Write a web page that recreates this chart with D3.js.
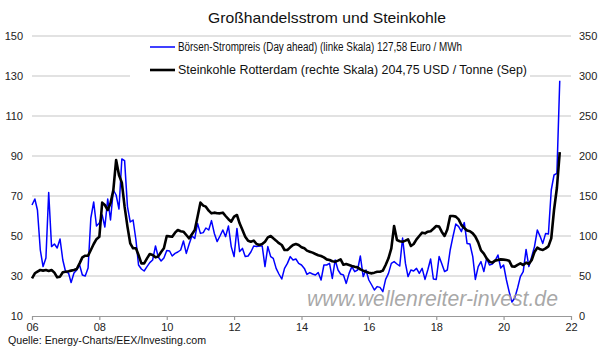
<!DOCTYPE html>
<html>
<head>
<meta charset="utf-8">
<script src="https://cdn.jsdelivr.net/npm/d3@7/dist/d3.min.js"></script>
<style>
  body { margin: 0; background: #fff; }
  svg text { font-family: "Liberation Sans", Arial, sans-serif; }
</style>
</head>
<body>
<div id="chart"></div>
<script>
var width = 605, height = 349;
var plot = {left: 32, right: 571, top: 36, bottom: 316};

// monthly values, first month = Jan 2006
var startDate = new Date(2006, 0, 1);

// Börsen-Strompreis (Day ahead), Euro / MWh, left scale
var stromPreis = [
  65.5, 68.5, 63, 43, 34.7, 39, 71.7, 44.7, 46, 44,
  48.5, 38, 32, 31.5, 26.7, 31.5, 33, 35.5, 30.5, 30,
  34, 59, 67, 55, 56.5, 60.5, 54.5, 68.5, 58, 73,
  70.5, 63.5, 88.5, 87.7, 64.7, 57, 58, 48, 35.5, 33.5,
  32.5, 34.7, 36.7, 38, 45, 39.5, 37.5, 39, 42.7, 42.5,
  40, 41.3, 42, 43, 47.5, 41.3, 46, 50, 48.8, 56.3,
  51.3, 51.7, 54, 53, 57.7, 51.3, 47.2, 50, 53,
  49.7, 55, 44.7, 39.7, 53.8, 42.2, 43.8, 39.7, 40, 42,
  45, 44.7, 45, 45, 34.7, 44.7, 39.7, 38.8, 33.8, 31,
  28.5, 33.8, 36.3, 39.7, 38, 38.5, 36.3, 35.5, 33.8, 30.8,
  31.7, 31, 30.5, 31.7, 28, 35.5, 35.5, 36.3, 28.8, 38,
  33, 31, 30.5, 26.3, 31.3, 34.7, 32.2, 33, 40, 29.7,
  33, 28, 25.5, 23, 24.7, 24.3, 22.2, 28.3, 31.3,
  36.3, 37.2, 36, 35, 49, 36.3, 29.7, 33, 32.5, 33.8,
  31.3, 33.8, 28.3, 33, 38.5, 28.5, 28.3, 39.7, 36.3, 32.2,
  33, 43, 49.7, 56, 54.7, 52.2, 56.7, 46.3, 46, 39.7,
  28.3, 34.7, 37.2, 32.2, 38.8, 35.5, 36, 37.7, 40.5, 34,
  35.5, 28, 22.2, 17, 19, 24, 29.7, 32.2, 43.3, 34.7,
  39.7, 44.7, 53, 49.7, 46.3, 51.3, 51, 73, 80.5, 81.3,
  127.58
];

// Steinkohle Rotterdam, USD / Tonne, right scale
var steinkohle = [
  47, 53.4, 55.5, 57.5, 56.7, 57.5, 56.3, 57.5, 54.2, 48.3,
  49.2, 54.6, 55.4, 56, 56.7, 57.5, 58.75, 65.8, 73.3, 75.4,
  75.4, 82.5, 90, 96, 99, 141.7, 138.75, 132.5, 140.8, 157.5,
  195, 176.25, 166.7, 136.7, 111.7, 90.8, 84.6, 84.6, 76.25, 65.8,
  65.8, 72, 77.5, 76.25, 73.3, 74.5, 80, 84.6, 100, 99.5,
  99.2, 104.2, 107.5, 106, 105.4, 101.25, 97.1, 102.1, 107.5, 124.2,
  141.7, 138, 136.7, 131.7, 128.3, 129.2, 128.5, 128.3, 129.2,
  125, 121, 117.9, 124.2, 126.25, 115.8, 107.5, 99.2, 94, 92.9,
  94.2, 90, 88.75, 90, 92.9, 98.3, 100, 97.1, 94.2, 91,
  88.75, 82.5, 82.5, 85.8, 88.75, 90, 88.75, 86, 84.6, 81.7,
  80.4, 79.2, 77.5, 76, 75, 73.3, 70.8, 70, 68.5, 67.9,
  69.2, 70.8, 64, 65, 63.75, 62.5, 61.5, 60.8, 58.3, 56.7,
  55.4, 54, 53.3, 54.2, 55.4, 55.4, 56.7, 63.75, 72.1,
  84.6, 112.5, 95, 93.5, 92.9, 94.2, 95.8, 87.5, 90, 95.8,
  100, 104.2, 103.3, 105.4, 106, 109, 112.5, 111.7, 105.4, 100,
  108, 125, 125, 124.2, 120.8, 113.75, 110, 107, 106, 103.3,
  99.2, 92, 82, 78, 72, 67.9, 66.7, 69.2, 70, 70.8,
  70.5, 70, 69.2, 62, 61.7, 64, 65.8, 63.75, 66.7, 65,
  70, 80, 85.4, 83.3, 82.5, 84.6, 87, 97, 132.5, 160,
  204.75
];

var xTickYears = [2006, 2008, 2010, 2012, 2014, 2016, 2018, 2020, 2022];
var leftTicks = [10, 30, 50, 70, 90, 110, 130, 150];
var rightTicks = [0, 50, 100, 150, 200, 250, 300, 350];

var titleText = "Großhandelsstrom und Steinkohle";
var legendLabels = [
  "Börsen-Strompreis (Day ahead) (linke Skala) 127,58 Euro / MWh",
  "Steinkohle Rotterdam (rechte Skala) 204,75 USD / Tonne (Sep)"
];
var sourceText = "Quelle: Energy-Charts/EEX/Investing.com";
var watermarkText = "www.wellenreiter-invest.de";

function monthDate(i) {
  return new Date(startDate.getFullYear(), startDate.getMonth() + i, 1);
}

var svg = d3.select("#chart").append("svg")
  .attr("width", width)
  .attr("height", height);

var x = d3.scaleTime()
  .domain([new Date(2006, 0, 1), new Date(2022, 0, 1)])
  .range([plot.left, plot.right]);
var yLeft = d3.scaleLinear().domain([10, 150]).range([plot.bottom, plot.top]);
var yRight = d3.scaleLinear().domain([0, 350]).range([plot.bottom, plot.top]);

// gridlines
svg.append("g").selectAll("line")
  .data(leftTicks.filter(function(d) { return d > 10; }))
  .enter().append("line")
  .attr("x1", plot.left).attr("x2", plot.right)
  .attr("y1", function(d) { return yLeft(d); })
  .attr("y2", function(d) { return yLeft(d); })
  .attr("stroke", "#d9d9d9")
  .attr("stroke-width", 1.3);

// left axis labels
svg.append("g").selectAll("text")
  .data(leftTicks)
  .enter().append("text")
  .attr("x", 23)
  .attr("y", function(d) { return yLeft(d) + 4; })
  .attr("text-anchor", "end")
  .attr("font-size", 11)
  .attr("fill", "#222")
  .text(function(d) { return d; });

// right axis labels
svg.append("g").selectAll("text")
  .data(rightTicks)
  .enter().append("text")
  .attr("x", 579)
  .attr("y", function(d) { return yRight(d) + 4; })
  .attr("text-anchor", "start")
  .attr("font-size", 11)
  .attr("fill", "#222")
  .text(function(d) { return d; });

// bottom axis
var xAxis = d3.axisBottom(x)
  .tickValues(xTickYears.map(function(y) { return new Date(y, 0, 1); }))
  .tickFormat(d3.timeFormat("%y"))
  .tickSize(4)
  .tickSizeOuter(0);

var gx = svg.append("g")
  .attr("transform", "translate(0," + plot.bottom + ")")
  .call(xAxis);
gx.select(".domain").attr("stroke", "#999").attr("stroke-width", 1.2);
gx.selectAll(".tick line").attr("stroke", "#999").attr("stroke-width", 1.2);
gx.selectAll(".tick text")
  .attr("font-family", "Liberation Sans, Arial, sans-serif")
  .attr("font-size", 11)
  .attr("fill", "#222")
  .attr("dy", "0.75em")
  .attr("y", 7);

// legend box (hides gridline behind it)
svg.append("rect")
  .attr("x", 130).attr("y", 39)
  .attr("width", 400).attr("height", 41)
  .attr("fill", "#fff");

// series lines
var lineStrom = d3.line()
  .x(function(d, i) { return x(monthDate(i)); })
  .y(function(d) { return yLeft(d); });
var lineKohle = d3.line()
  .x(function(d, i) { return x(monthDate(i)); })
  .y(function(d) { return yRight(d); });

svg.append("path")
  .datum(stromPreis)
  .attr("d", lineStrom)
  .attr("fill", "none")
  .attr("stroke", "#0000ff")
  .attr("stroke-width", 1.5)
  .attr("stroke-linejoin", "round");

svg.append("path")
  .datum(steinkohle)
  .attr("d", lineKohle)
  .attr("fill", "none")
  .attr("stroke", "#000")
  .attr("stroke-width", 2.6)
  .attr("stroke-linejoin", "round");

// legend
var legendColors = ["#0000ff", "#000"];
var legendWidths = [1.5, 2.6];
var legendY = [47, 70];
var legendSize = [12, 12];
var legendLen = [284, 349];
var legend = svg.append("g");
legendLabels.forEach(function(lbl, i) {
  legend.append("line")
    .attr("x1", 150).attr("x2", 175)
    .attr("y1", legendY[i]).attr("y2", legendY[i])
    .attr("stroke", legendColors[i])
    .attr("stroke-width", legendWidths[i]);
  legend.append("text")
    .attr("x", 178)
    .attr("y", legendY[i] + 4)
    .attr("font-size", legendSize[i])
    .attr("fill", "#111")
    .attr("textLength", legendLen[i])
    .attr("lengthAdjust", "spacingAndGlyphs")
    .text(lbl);
});

// title
svg.append("text")
  .attr("x", 208).attr("y", 23)
  .attr("font-size", 15)
  .attr("fill", "#111")
  .attr("textLength", 238)
  .attr("lengthAdjust", "spacingAndGlyphs")
  .text(titleText);

// watermark
svg.append("text")
  .attr("x", 307).attr("y", 306)
  .attr("font-size", 22)
  .attr("font-style", "italic")
  .attr("fill", "#999")
  .attr("fill-opacity", 0.85)
  .attr("textLength", 251)
  .attr("lengthAdjust", "spacingAndGlyphs")
  .text(watermarkText);

// source
svg.append("text")
  .attr("x", 8).attr("y", 344)
  .attr("font-family", "Open Sans, sans-serif")
  .attr("font-size", 10)
  .attr("fill", "#111")
  .attr("textLength", 198)
  .attr("lengthAdjust", "spacingAndGlyphs")
  .text(sourceText);
</script>
</body>
</html>
